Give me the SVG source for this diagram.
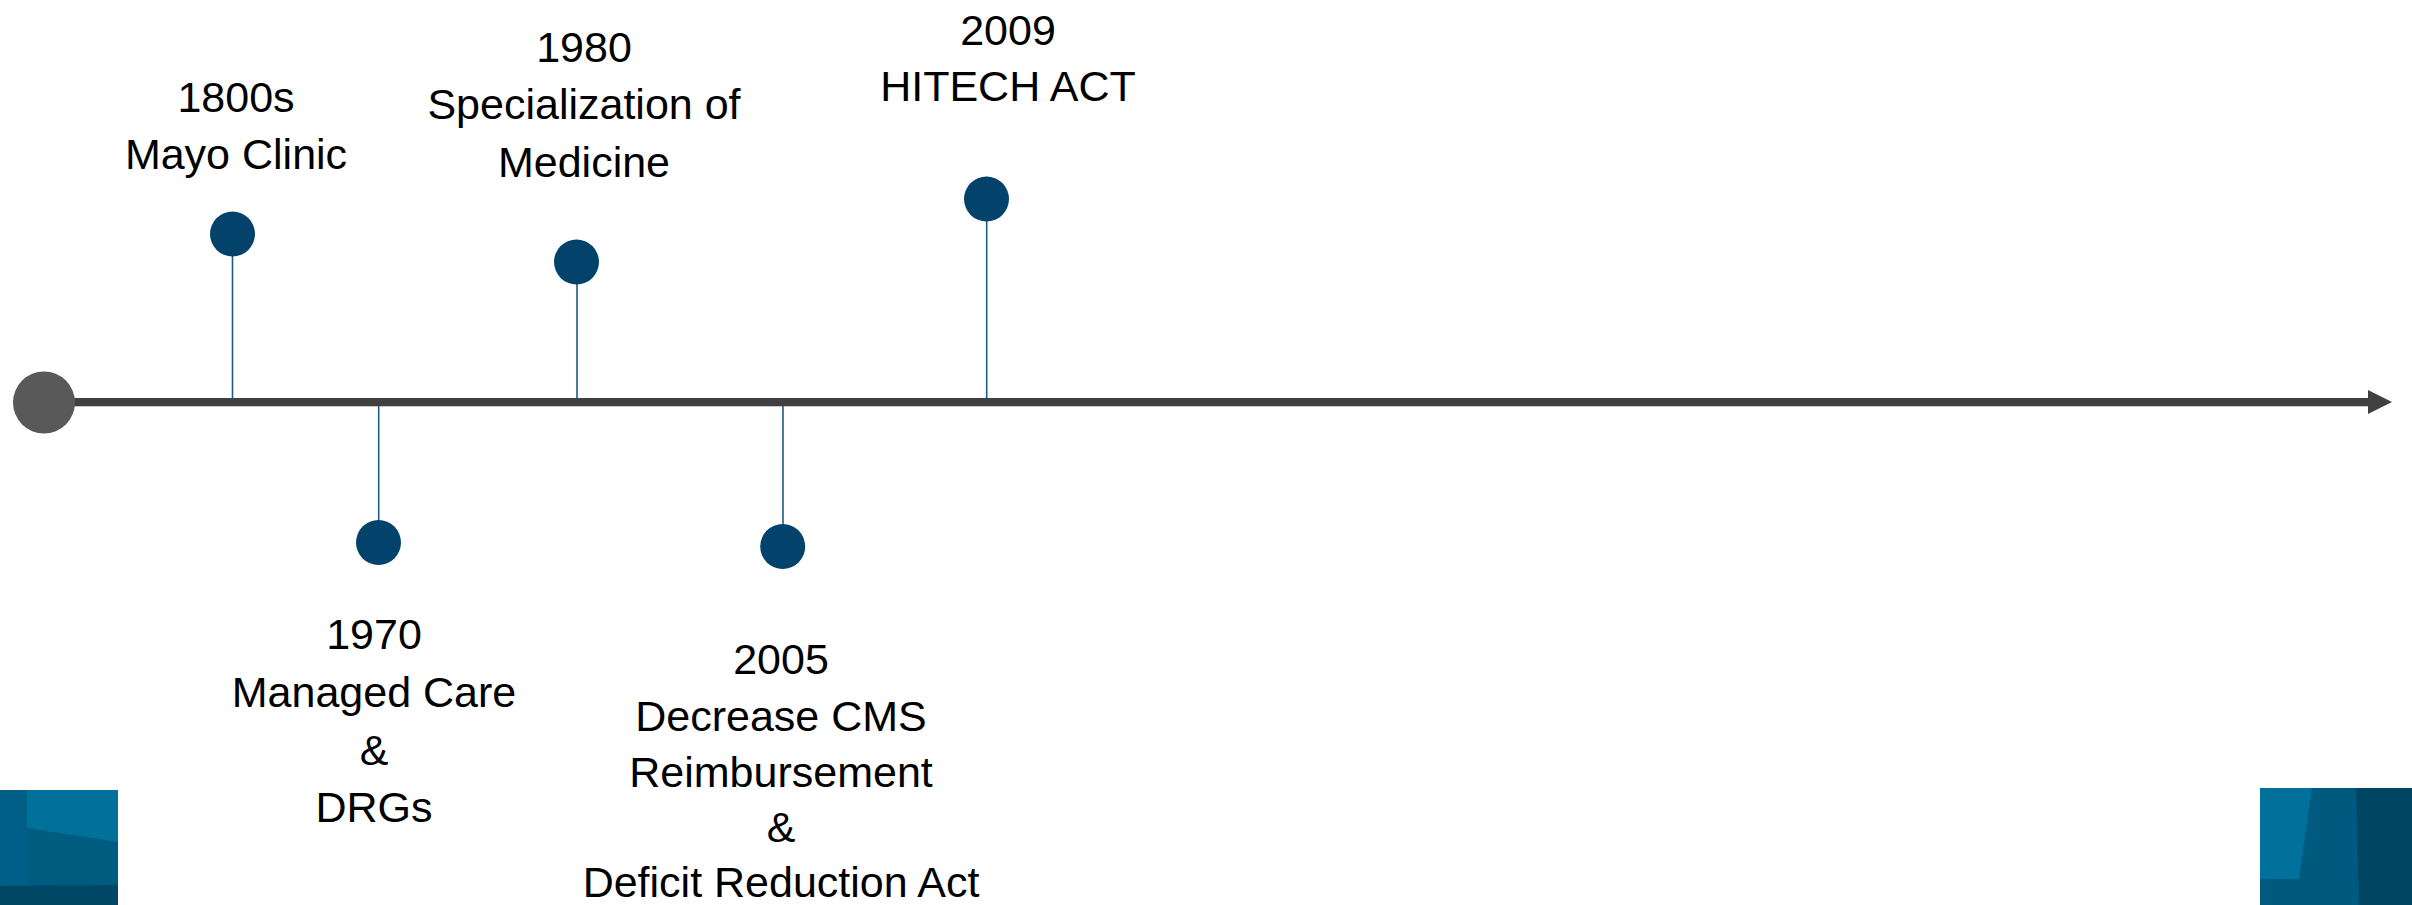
<svg xmlns="http://www.w3.org/2000/svg" width="2412" height="905" viewBox="0 0 2412 905">
  <style>
    .lbl { font-family: "Liberation Sans", Arial, sans-serif; font-size: 43px; fill: #000000; text-anchor: middle; }
    .dot { fill: #02426b; }
    .stem { stroke: #1b5c88; stroke-width: 1.6; fill: none; }
    .axis { stroke: #404040; stroke-width: 8; fill: none; }
  </style>
  <defs>
    <marker id="axisHead" markerUnits="userSpaceOnUse" markerWidth="26" markerHeight="26" refX="0" refY="12" orient="auto" overflow="visible">
      <path d="M0,0 L24,12 L0,24 Z" fill="#404040"/>
    </marker>
  </defs>

  <rect width="2412" height="905" fill="#ffffff"/>

  <!-- corner decorations -->
  <g id="corner-left">
    <rect x="0" y="790" width="118" height="115" fill="#005b80"/>
    <rect x="0" y="790" width="27" height="96" fill="#005f86"/>
    <polygon points="27,790 118,790 118,842 27,828" fill="#01709a"/>
    <polygon points="0,886 118,885 118,905 0,905" fill="#004766"/>
  </g>
  <g id="corner-right">
    <rect x="2260" y="788" width="152" height="117" fill="#005a80"/>
    <polygon points="2260,788 2312,788 2299,879 2260,879" fill="#01709a"/>
    <polygon points="2356,788 2412,788 2412,905 2359,905" fill="#004563"/>
  </g>

  <!-- axis and stems -->
  <g id="connectors">
    <line x1="44" y1="406.5" x2="2368" y2="406.5" stroke="#c8c8c8" stroke-width="1"/>
    <line class="axis" x1="44" y1="402" x2="2368" y2="402" marker-end="url(#axisHead)"/>
    <line class="stem" x1="232.5" y1="256" x2="232.5" y2="398"/>
    <line class="stem" x1="378.7" y1="406" x2="378.7" y2="521"/>
    <line class="stem" x1="577" y1="284" x2="577" y2="398"/>
    <line class="stem" x1="783" y1="406" x2="783" y2="525"/>
    <line class="stem" x1="986.7" y1="221" x2="986.7" y2="398"/>
  </g>

  <g id="start">
    <circle cx="44" cy="402.5" r="31" fill="#595959"/>
  </g>

  <g id="event-1800s">
    <circle class="dot" cx="232.5" cy="234" r="22.5"/>
    <text class="lbl" x="236" y="112">1800s</text>
    <text class="lbl" x="236" y="169">Mayo Clinic</text>
  </g>

  <g id="event-1970">
    <circle class="dot" cx="378.5" cy="542.5" r="22.5"/>
    <text class="lbl" x="374" y="649">1970</text>
    <text class="lbl" x="374" y="707">Managed Care</text>
    <text class="lbl" x="374" y="765">&amp;</text>
    <text class="lbl" x="374" y="822">DRGs</text>
  </g>

  <g id="event-1980">
    <circle class="dot" cx="576.5" cy="262" r="22.5"/>
    <text class="lbl" x="584" y="62">1980</text>
    <text class="lbl" x="584" y="119">Specialization of</text>
    <text class="lbl" x="584" y="177">Medicine</text>
  </g>

  <g id="event-2005">
    <circle class="dot" cx="782.7" cy="546.5" r="22.5"/>
    <text class="lbl" x="781" y="674">2005</text>
    <text class="lbl" x="781" y="731">Decrease CMS</text>
    <text class="lbl" x="781" y="787">Reimbursement</text>
    <text class="lbl" x="781" y="842">&amp;</text>
    <text class="lbl" x="781" y="897">Deficit Reduction Act</text>
  </g>

  <g id="event-2009">
    <circle class="dot" cx="986.5" cy="199" r="22.5"/>
    <text class="lbl" x="1008" y="45">2009</text>
    <text class="lbl" x="1008" y="101">HITECH ACT</text>
  </g>
</svg>
